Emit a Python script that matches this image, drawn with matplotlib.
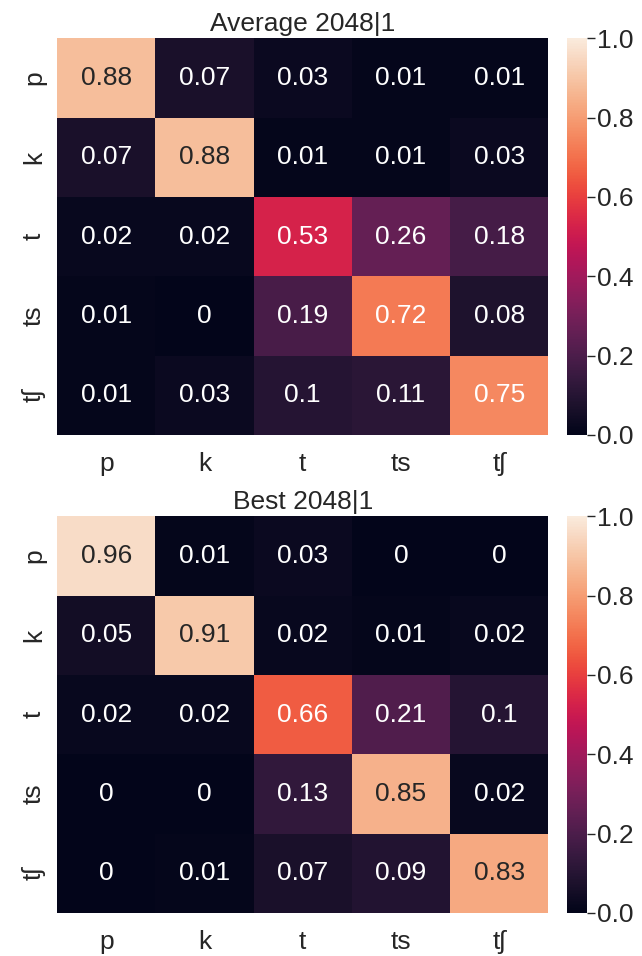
import numpy as np
import matplotlib
matplotlib.use("Agg")
import matplotlib.pyplot as plt
import seaborn as sns

sns.set_theme(style="white", font_scale=1.5)
plt.rcParams["font.family"] = ["Liberation Sans", "DejaVu Sans"]

labels = ["p", "k", "t", "ts", "tʃ"]

avg = np.array([
    [0.88, 0.07, 0.03, 0.01, 0.01],
    [0.07, 0.88, 0.01, 0.01, 0.03],
    [0.02, 0.02, 0.53, 0.26, 0.18],
    [0.01, 0.00, 0.19, 0.72, 0.08],
    [0.01, 0.03, 0.10, 0.11, 0.75],
])

best = np.array([
    [0.96, 0.01, 0.03, 0.00, 0.00],
    [0.05, 0.91, 0.02, 0.01, 0.02],
    [0.02, 0.02, 0.66, 0.21, 0.10],
    [0.00, 0.00, 0.13, 0.85, 0.02],
    [0.00, 0.01, 0.07, 0.09, 0.83],
])

titles = ["Average 2048|1", "Best 2048|1"]

fig = plt.figure(figsize=(6.42, 9.56), dpi=100)
# axes placed by hand to match the layout
ax1 = fig.add_axes([0.089, 0.545, 0.765, 0.415])
cb1 = fig.add_axes([0.883, 0.545, 0.031, 0.415])
ax2 = fig.add_axes([0.089, 0.045, 0.765, 0.415])
cb2 = fig.add_axes([0.883, 0.045, 0.031, 0.415])

for ax, cax, data, title in [(ax1, cb1, avg, titles[0]), (ax2, cb2, best, titles[1])]:
    sns.heatmap(data, ax=ax, cbar_ax=cax, cmap="rocket", vmin=0, vmax=1,
                annot=True, fmt="g", xticklabels=labels, yticklabels=labels,
                annot_kws={"size": 19})
    ax.set_title(title, fontsize=19, pad=5)
    ax.tick_params(labelsize=19, length=0)
    ax.tick_params(axis="x", pad=12)
    ax.tick_params(axis="y", pad=8)
    cax.tick_params(labelsize=19, length=6, width=1, direction="out", left=False, right=True, pad=1)

fig.savefig("out.png", dpi=100)
